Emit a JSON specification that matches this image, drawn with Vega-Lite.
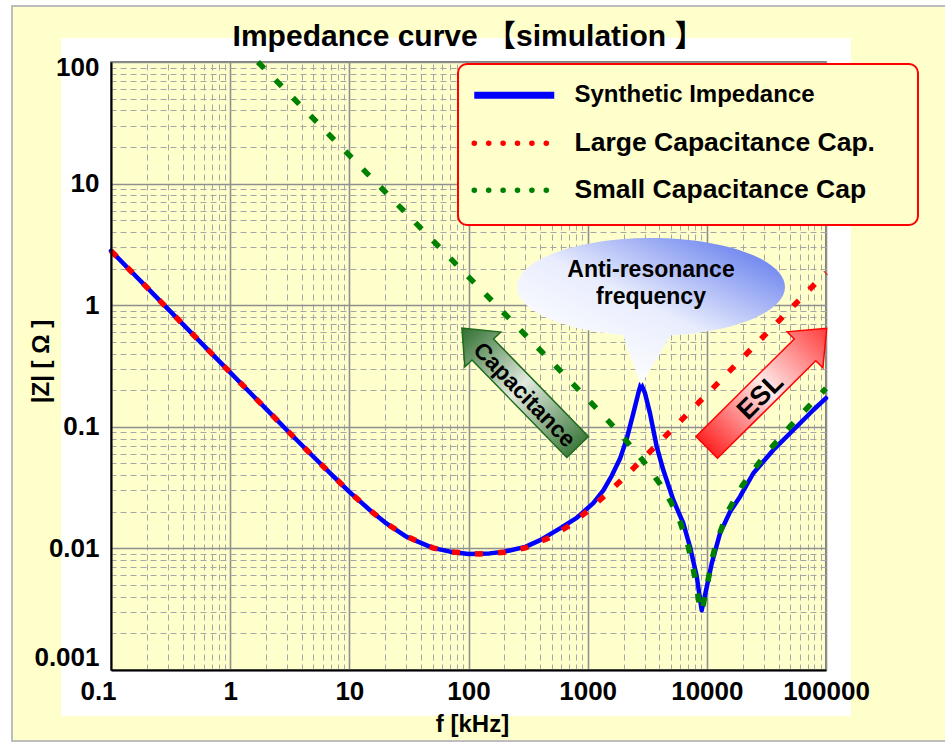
{
  "$schema": "https://vega.github.io/schema/vega-lite/v6.json",
  "width": 715,
  "height": 608,
  "autosize": {"type": "none"},
  "padding": {"left": 111, "top": 62, "right": 119, "bottom": 77},
  "background": "#FFFFFF",
  "config": {
    "view": {"fill": "#FFFFCC", "stroke": "#555555", "strokeWidth": 1.5},
    "font": "Liberation Sans"
  },
  "title": {
    "text": "Impedance curve 【simulation 】",
    "font": "Liberation Sans, Noto Sans CJK JP",
    "fontSize": 30,
    "fontWeight": "bold",
    "color": "#000000",
    "anchor": "middle",
    "frame": "group",
    "baseline": "alphabetic",
    "offset": 15,
    "dy": 86,
    "zindex": 1
  },
  "datasets": {
    "curves": [
      {"series": "Synthetic Impedance", "f": 0.1, "z": 2.8},
      {"series": "Synthetic Impedance", "f": 0.15, "z": 1.867},
      {"series": "Synthetic Impedance", "f": 0.2, "z": 1.4},
      {"series": "Synthetic Impedance", "f": 0.3, "z": 0.933},
      {"series": "Synthetic Impedance", "f": 0.5, "z": 0.56},
      {"series": "Synthetic Impedance", "f": 0.7, "z": 0.4},
      {"series": "Synthetic Impedance", "f": 1, "z": 0.28},
      {"series": "Synthetic Impedance", "f": 1.5, "z": 0.187},
      {"series": "Synthetic Impedance", "f": 2, "z": 0.1403},
      {"series": "Synthetic Impedance", "f": 3, "z": 0.0937},
      {"series": "Synthetic Impedance", "f": 5, "z": 0.0567},
      {"series": "Synthetic Impedance", "f": 7, "z": 0.041},
      {"series": "Synthetic Impedance", "f": 10, "z": 0.0292},
      {"series": "Synthetic Impedance", "f": 15, "z": 0.0205},
      {"series": "Synthetic Impedance", "f": 20, "z": 0.0163},
      {"series": "Synthetic Impedance", "f": 30, "z": 0.0125},
      {"series": "Synthetic Impedance", "f": 50, "z": 0.0101},
      {"series": "Synthetic Impedance", "f": 70, "z": 0.0094},
      {"series": "Synthetic Impedance", "f": 100, "z": 0.009},
      {"series": "Synthetic Impedance", "f": 150, "z": 0.0091},
      {"series": "Synthetic Impedance", "f": 200, "z": 0.0094},
      {"series": "Synthetic Impedance", "f": 300, "z": 0.0103},
      {"series": "Synthetic Impedance", "f": 400, "z": 0.0117},
      {"series": "Synthetic Impedance", "f": 586, "z": 0.0146},
      {"series": "Synthetic Impedance", "f": 809, "z": 0.0178},
      {"series": "Synthetic Impedance", "f": 1115, "z": 0.0236},
      {"series": "Synthetic Impedance", "f": 1353, "z": 0.03},
      {"series": "Synthetic Impedance", "f": 1591, "z": 0.0395},
      {"series": "Synthetic Impedance", "f": 1867, "z": 0.0545},
      {"series": "Synthetic Impedance", "f": 2126, "z": 0.0795},
      {"series": "Synthetic Impedance", "f": 2415, "z": 0.129},
      {"series": "Synthetic Impedance", "f": 2661, "z": 0.189},
      {"series": "Synthetic Impedance", "f": 2800, "z": 0.225},
      {"series": "Synthetic Impedance", "f": 3028, "z": 0.189},
      {"series": "Synthetic Impedance", "f": 3336, "z": 0.129},
      {"series": "Synthetic Impedance", "f": 3796, "z": 0.0686},
      {"series": "Synthetic Impedance", "f": 4312, "z": 0.0441},
      {"series": "Synthetic Impedance", "f": 5231, "z": 0.025},
      {"series": "Synthetic Impedance", "f": 6346, "z": 0.0161},
      {"series": "Synthetic Impedance", "f": 7224, "z": 0.0103},
      {"series": "Synthetic Impedance", "f": 8222, "z": 0.0059},
      {"series": "Synthetic Impedance", "f": 9055, "z": 0.0031},
      {"series": "Synthetic Impedance", "f": 9975, "z": 0.0048},
      {"series": "Synthetic Impedance", "f": 10985, "z": 0.0075},
      {"series": "Synthetic Impedance", "f": 12895, "z": 0.0133},
      {"series": "Synthetic Impedance", "f": 15650, "z": 0.02},
      {"series": "Synthetic Impedance", "f": 18980, "z": 0.0266},
      {"series": "Synthetic Impedance", "f": 24550, "z": 0.0415},
      {"series": "Synthetic Impedance", "f": 36130, "z": 0.0645},
      {"series": "Synthetic Impedance", "f": 53160, "z": 0.0941},
      {"series": "Synthetic Impedance", "f": 78230, "z": 0.1375},
      {"series": "Synthetic Impedance", "f": 100000, "z": 0.172},

      {"series": "Large Capacitance Cap.", "f": 0.1, "z": 2.8},
      {"series": "Large Capacitance Cap.", "f": 0.15, "z": 1.867},
      {"series": "Large Capacitance Cap.", "f": 0.2, "z": 1.4},
      {"series": "Large Capacitance Cap.", "f": 0.3, "z": 0.933},
      {"series": "Large Capacitance Cap.", "f": 0.5, "z": 0.56},
      {"series": "Large Capacitance Cap.", "f": 0.7, "z": 0.4},
      {"series": "Large Capacitance Cap.", "f": 1, "z": 0.28},
      {"series": "Large Capacitance Cap.", "f": 1.5, "z": 0.187},
      {"series": "Large Capacitance Cap.", "f": 2, "z": 0.1403},
      {"series": "Large Capacitance Cap.", "f": 3, "z": 0.0937},
      {"series": "Large Capacitance Cap.", "f": 5, "z": 0.0567},
      {"series": "Large Capacitance Cap.", "f": 7, "z": 0.041},
      {"series": "Large Capacitance Cap.", "f": 10, "z": 0.0292},
      {"series": "Large Capacitance Cap.", "f": 15, "z": 0.0205},
      {"series": "Large Capacitance Cap.", "f": 20, "z": 0.0163},
      {"series": "Large Capacitance Cap.", "f": 30, "z": 0.0126},
      {"series": "Large Capacitance Cap.", "f": 50, "z": 0.0101},
      {"series": "Large Capacitance Cap.", "f": 70, "z": 0.0094},
      {"series": "Large Capacitance Cap.", "f": 100, "z": 0.00905},
      {"series": "Large Capacitance Cap.", "f": 123, "z": 0.009},
      {"series": "Large Capacitance Cap.", "f": 150, "z": 0.00905},
      {"series": "Large Capacitance Cap.", "f": 200, "z": 0.0093},
      {"series": "Large Capacitance Cap.", "f": 300, "z": 0.0101},
      {"series": "Large Capacitance Cap.", "f": 500, "z": 0.0125},
      {"series": "Large Capacitance Cap.", "f": 700, "z": 0.0154},
      {"series": "Large Capacitance Cap.", "f": 1000, "z": 0.0203},
      {"series": "Large Capacitance Cap.", "f": 1500, "z": 0.029},
      {"series": "Large Capacitance Cap.", "f": 2000, "z": 0.0379},
      {"series": "Large Capacitance Cap.", "f": 3000, "z": 0.0562},
      {"series": "Large Capacitance Cap.", "f": 5000, "z": 0.0929},
      {"series": "Large Capacitance Cap.", "f": 7000, "z": 0.1298},
      {"series": "Large Capacitance Cap.", "f": 10000, "z": 0.185},
      {"series": "Large Capacitance Cap.", "f": 20000, "z": 0.37},
      {"series": "Large Capacitance Cap.", "f": 30000, "z": 0.555},
      {"series": "Large Capacitance Cap.", "f": 50000, "z": 0.925},
      {"series": "Large Capacitance Cap.", "f": 70000, "z": 1.295},
      {"series": "Large Capacitance Cap.", "f": 100000, "z": 1.85},

      {"series": "Small Capacitance Cap", "f": 1.71, "z": 100},
      {"series": "Small Capacitance Cap", "f": 2, "z": 85.5},
      {"series": "Small Capacitance Cap", "f": 3, "z": 57},
      {"series": "Small Capacitance Cap", "f": 5, "z": 34.2},
      {"series": "Small Capacitance Cap", "f": 7, "z": 24.4},
      {"series": "Small Capacitance Cap", "f": 10, "z": 17.1},
      {"series": "Small Capacitance Cap", "f": 15, "z": 11.4},
      {"series": "Small Capacitance Cap", "f": 20, "z": 8.55},
      {"series": "Small Capacitance Cap", "f": 30, "z": 5.7},
      {"series": "Small Capacitance Cap", "f": 50, "z": 3.42},
      {"series": "Small Capacitance Cap", "f": 70, "z": 2.44},
      {"series": "Small Capacitance Cap", "f": 100, "z": 1.71},
      {"series": "Small Capacitance Cap", "f": 150, "z": 1.14},
      {"series": "Small Capacitance Cap", "f": 200, "z": 0.855},
      {"series": "Small Capacitance Cap", "f": 300, "z": 0.569},
      {"series": "Small Capacitance Cap", "f": 500, "z": 0.341},
      {"series": "Small Capacitance Cap", "f": 700, "z": 0.243},
      {"series": "Small Capacitance Cap", "f": 1000, "z": 0.169},
      {"series": "Small Capacitance Cap", "f": 1500, "z": 0.111},
      {"series": "Small Capacitance Cap", "f": 2000, "z": 0.0813},
      {"series": "Small Capacitance Cap", "f": 2500, "z": 0.0632},
      {"series": "Small Capacitance Cap", "f": 3000, "z": 0.0507},
      {"series": "Small Capacitance Cap", "f": 4000, "z": 0.0344},
      {"series": "Small Capacitance Cap", "f": 5000, "z": 0.024},
      {"series": "Small Capacitance Cap", "f": 6000, "z": 0.0163},
      {"series": "Small Capacitance Cap", "f": 7000, "z": 0.0103},
      {"series": "Small Capacitance Cap", "f": 8000, "z": 0.0056},
      {"series": "Small Capacitance Cap", "f": 8600, "z": 0.0036},
      {"series": "Small Capacitance Cap", "f": 9055, "z": 0.003},
      {"series": "Small Capacitance Cap", "f": 10000, "z": 0.0048},
      {"series": "Small Capacitance Cap", "f": 11000, "z": 0.008},
      {"series": "Small Capacitance Cap", "f": 12000, "z": 0.0112},
      {"series": "Small Capacitance Cap", "f": 15000, "z": 0.0201},
      {"series": "Small Capacitance Cap", "f": 20000, "z": 0.0333},
      {"series": "Small Capacitance Cap", "f": 30000, "z": 0.0569},
      {"series": "Small Capacitance Cap", "f": 50000, "z": 0.1009},
      {"series": "Small Capacitance Cap", "f": 70000, "z": 0.1436},
      {"series": "Small Capacitance Cap", "f": 100000, "z": 0.2069}
    ]
  },
  "resolve": {"axis": {"x": "independent", "y": "independent"}},
  "layer": [
    {
      "data": {"values": [{}]},
      "mark": {"type": "rect", "fill": "#FFFFCC", "strokeWidth": 0},
      "encoding": {
        "x": {"datum": 0.014766, "type": "quantitative", "scale": {"type": "log", "domain": [0.1, 100000], "nice": false}, "axis": null},
        "x2": {"datum": 0.038059},
        "y": {"datum": 288.8, "type": "quantitative", "scale": {"type": "log", "domain": [0.001, 100], "nice": false}, "axis": null},
        "y2": {"datum": 0.00026061}
      }
    },
    {
      "data": {"values": [{}]},
      "mark": {"type": "rect", "fill": "#FFFFCC", "strokeWidth": 0},
      "encoding": {
        "x": {"datum": 162050, "type": "quantitative", "scale": {"type": "log", "domain": [0.1, 100000], "nice": false}, "axis": null},
        "x2": {"datum": 1098000},
        "y": {"datum": 288.8, "type": "quantitative", "scale": {"type": "log", "domain": [0.001, 100], "nice": false}, "axis": null},
        "y2": {"datum": 0.00026061}
      }
    },
    {
      "data": {"values": [{}]},
      "mark": {"type": "rect", "fill": "#FFFFCC", "strokeWidth": 0},
      "encoding": {
        "x": {"datum": 0.038059, "type": "quantitative", "scale": {"type": "log", "domain": [0.1, 100000], "nice": false}, "axis": null},
        "x2": {"datum": 162050},
        "y": {"datum": 288.8, "type": "quantitative", "scale": {"type": "log", "domain": [0.001, 100], "nice": false}, "axis": null},
        "y2": {"datum": 157.5}
      }
    },
    {
      "data": {"values": [{}]},
      "mark": {"type": "rect", "fill": "#FFFFCC", "strokeWidth": 0},
      "encoding": {
        "x": {"datum": 0.038059, "type": "quantitative", "scale": {"type": "log", "domain": [0.1, 100000], "nice": false}, "axis": null},
        "x2": {"datum": 162050},
        "y": {"datum": 0.00041846, "type": "quantitative", "scale": {"type": "log", "domain": [0.001, 100], "nice": false}, "axis": null},
        "y2": {"datum": 0.00026061}
      }
    },
    {
      "data": {"values": [{}]},
      "mark": {"type": "rect", "fill": "transparent", "stroke": "#BDBDBD", "strokeWidth": 2},
      "encoding": {
        "x": {"datum": 0.014766, "type": "quantitative", "scale": {"type": "log", "domain": [0.1, 100000], "nice": false}, "axis": null},
        "x2": {"datum": 1098000},
        "y": {"datum": 288.8, "type": "quantitative", "scale": {"type": "log", "domain": [0.001, 100], "nice": false}, "axis": null},
        "y2": {"datum": 0.00026061}
      }
    },
    {
      "data": {"values": [{}]},
      "mark": {"type": "rect", "fill": "#FFFFCC", "stroke": "#FF0000", "strokeWidth": 2, "cornerRadius": 9},
      "encoding": {
        "x": {"datum": 81.65, "type": "quantitative", "scale": {"type": "log", "domain": [0.1, 100000], "nice": false}, "axis": null},
        "x2": {"datum": 591500},
        "y": {"datum": 96.28, "type": "quantitative", "scale": {"type": "log", "domain": [0.001, 100], "nice": false}, "axis": null},
        "y2": {"datum": 4.566}
      }
    },
    {
      "data": {"name": "curves"},
      "transform": [{"filter": "datum.series === 'Synthetic Impedance'"}],
      "mark": {"type": "line", "strokeWidth": 4.5, "strokeCap": "round", "strokeJoin": "round"},
      "encoding": {
        "x": {
          "field": "f", "type": "quantitative",
          "scale": {"type": "log", "domain": [0.1, 100000], "nice": false},
          "axis": {
            "orient": "top",
            "values": [0.1,0.2,0.3,0.4,0.5,0.6,0.7,0.8,0.9,1,2,3,4,5,6,7,8,9,10,20,30,40,50,60,70,80,90,100,200,300,400,500,600,700,800,900,1000,2000,3000,4000,5000,6000,7000,8000,9000,10000,20000,30000,40000,50000,60000,70000,80000,90000,100000],
            "grid": true,
            "gridColor": {"condition": {"test": "abs(log(datum.value)/LN10 - round(log(datum.value)/LN10)) < 0.001", "value": "#8F8F8F"}, "value": "#A6A6A6"},
            "gridDash": {"condition": {"test": "abs(log(datum.value)/LN10 - round(log(datum.value)/LN10)) < 0.001", "value": []}, "value": [6, 4]},
            "gridWidth": {"condition": {"test": "abs(log(datum.value)/LN10 - round(log(datum.value)/LN10)) < 0.001", "value": 1.6}, "value": 1},
            "labels": false, "ticks": false, "domain": false, "title": null, "zindex": 0
          }
        },
        "y": {
          "field": "z", "type": "quantitative",
          "scale": {"type": "log", "domain": [0.001, 100], "nice": false},
          "axis": {
            "orient": "right",
            "values": [0.001,0.002,0.003,0.004,0.005,0.006,0.007,0.008,0.009,0.01,0.02,0.03,0.04,0.05,0.06,0.07,0.08,0.09,0.1,0.2,0.3,0.4,0.5,0.6,0.7,0.8,0.9,1,2,3,4,5,6,7,8,9,10,20,30,40,50,60,70,80,90,100],
            "grid": true,
            "gridColor": {"condition": {"test": "abs(log(datum.value)/LN10 - round(log(datum.value)/LN10)) < 0.001", "value": "#8F8F8F"}, "value": "#A6A6A6"},
            "gridDash": {"condition": {"test": "abs(log(datum.value)/LN10 - round(log(datum.value)/LN10)) < 0.001", "value": []}, "value": [6, 4]},
            "gridWidth": {"condition": {"test": "abs(log(datum.value)/LN10 - round(log(datum.value)/LN10)) < 0.001", "value": 1.6}, "value": 1},
            "labels": false, "ticks": false, "domain": false, "title": null, "zindex": 0
          }
        },
        "color": {
          "field": "series", "type": "nominal",
          "scale": {"domain": ["Synthetic Impedance", "Large Capacitance Cap.", "Small Capacitance Cap"], "range": ["#0000FF", "#FF0000", "#008000"]},
          "legend": {
            "title": null,
            "orient": "none",
            "legendX": 347,
            "legendY": 5,
            "direction": "vertical",
            "symbolType": "stroke",
            "symbolSize": 6400,
            "symbolStrokeWidth": 5,
            "symbolOffset": 28,
            "labelFont": "Liberation Sans",
            "labelFontSize": 26,
            "labelFontWeight": "bold",
            "labelColor": "#000000",
            "labelOffset": 47,
            "labelLimit": 0,
            "rowPadding": 20,
            "padding": 15,
            "zindex": 1,
            "encode": {
              "symbols": {"update": {
                "strokeDash": {"signal": "datum.value === 'Synthetic Impedance' ? [1, 0] : [0.1, 14.3]"},
                "strokeCap": {"signal": "datum.value === 'Synthetic Impedance' ? 'butt' : 'round'"},
                "strokeWidth": {"signal": "datum.value === 'Synthetic Impedance' ? 7 : 5.5"}
              }},
              "labels": {"update": {
                "fontSize": {"signal": "datum.value === 'Synthetic Impedance' ? 24 : 26.5"}
              }}
            }
          }
        }
      }
    },
    {
      "data": {"name": "curves"},
      "transform": [{"filter": "datum.series === 'Large Capacitance Cap.'"}],
      "mark": {"type": "line", "strokeWidth": 5.5, "strokeCap": "butt", "strokeDash": [8, 15]},
      "encoding": {
        "x": {
          "field": "f", "type": "quantitative",
          "scale": {"type": "log", "domain": [0.1, 100000], "nice": false},
          "axis": {
            "orient": "bottom",
            "values": [0.1, 1, 10, 100, 1000, 10000, 100000],
            "grid": false, "ticks": false,
            "domain": true, "domainColor": "#000000", "domainWidth": 2,
            "format": "~g",
            "labelFont": "Liberation Sans", "labelFontSize": 26, "labelFontWeight": "bold", "labelColor": "#000000",
            "labelPadding": 8, "labelFlush": false, "labelOverlap": false, "labelBound": false,
            "labelOffset": {"condition": {"test": "datum.value < 0.5", "value": -13}, "value": 0},
            "title": "f [kHz]",
            "titleFont": "Liberation Sans", "titleFontSize": 24, "titleFontWeight": "bold", "titleColor": "#000000",
            "titleX": 361, "titleY": 61, "titleAlign": "center", "titleBaseline": "alphabetic",
            "zindex": 1
          }
        },
        "y": {
          "field": "z", "type": "quantitative",
          "scale": {"type": "log", "domain": [0.001, 100], "nice": false},
          "axis": {
            "orient": "left",
            "values": [0.001, 0.01, 0.1, 1, 10, 100],
            "grid": false, "ticks": false,
            "domain": true, "domainColor": "#000000", "domainWidth": 2,
            "format": "~g",
            "labelFont": "Liberation Sans", "labelFontSize": 26, "labelFontWeight": "bold", "labelColor": "#000000",
            "labelPadding": 12, "labelFlush": false, "labelOverlap": false, "labelBound": false,
            "labelOffset": {"condition": [{"test": "datum.value > 50", "value": 5}, {"test": "datum.value < 0.002", "value": -13}], "value": 0},
            "title": "|Z| [ Ω ]",
            "titleFont": "Liberation Sans", "titleFontSize": 24, "titleFontWeight": "bold", "titleColor": "#000000",
            "titleX": -70, "titleY": 299, "titleAngle": -90, "titleAlign": "center", "titleBaseline": "middle",
            "zindex": 1
          }
        },
        "color": {"field": "series", "type": "nominal", "scale": {"domain": ["Synthetic Impedance", "Large Capacitance Cap.", "Small Capacitance Cap"], "range": ["#0000FF", "#FF0000", "#008000"]}}
      }
    },
    {
      "data": {"name": "curves"},
      "transform": [{"filter": "datum.series === 'Small Capacitance Cap'"}],
      "mark": {"type": "line", "strokeWidth": 5.5, "strokeCap": "butt", "strokeDash": [9, 16]},
      "encoding": {
        "x": {"field": "f", "type": "quantitative", "scale": {"type": "log", "domain": [0.1, 100000], "nice": false}, "axis": null},
        "y": {"field": "z", "type": "quantitative", "scale": {"type": "log", "domain": [0.001, 100], "nice": false}, "axis": null},
        "color": {"field": "series", "type": "nominal", "scale": {"domain": ["Synthetic Impedance", "Large Capacitance Cap.", "Small Capacitance Cap"], "range": ["#0000FF", "#FF0000", "#008000"]}}
      }
    },
    {
      "data": {"values": [{}]},
      "mark": {
        "type": "point",
        "shape": "M -1 0 C -1 -0.2021 -0.5523 -0.366 0 -0.366 C 0.5523 -0.366 1 -0.2021 1 0 C 1 0.2021 0.5523 0.366 0 0.366 C -0.5523 0.366 -1 0.2021 -1 0 Z M 0.164 0.33 L -0.075 0.731 L -0.219 0.33 Z",
        "size": 71824,
        "filled": true,
        "opacity": 1,
        "strokeWidth": 0,
        "fill": {"gradient": "linear", "x1": 0.25, "y1": 0.85, "x2": 1, "y2": 0, "stops": [{"offset": 0, "color": "#FFFFFF"}, {"offset": 0.4, "color": "#E8ECFD"}, {"offset": 1, "color": "#4F6BEB"}]}
      },
      "encoding": {
        "x": {"datum": 3400, "type": "quantitative", "scale": {"type": "log", "domain": [0.1, 100000], "nice": false}, "axis": null},
        "y": {"datum": 1.413, "type": "quantitative", "scale": {"type": "log", "domain": [0.001, 100], "nice": false}, "axis": null}
      }
    },
    {
      "data": {"values": [{}]},
      "mark": {"type": "text", "text": ["Anti-resonance", "frequency"], "lineHeight": 27, "font": "Liberation Sans", "fontSize": 23, "fontWeight": "bold", "color": "#000000", "align": "center", "baseline": "middle"},
      "encoding": {
        "x": {"datum": 3400, "type": "quantitative", "scale": {"type": "log", "domain": [0.1, 100000], "nice": false}, "axis": null},
        "y": {"datum": 1.948, "type": "quantitative", "scale": {"type": "log", "domain": [0.001, 100], "nice": false}, "axis": null}
      }
    },
    {
      "data": {"values": [{}]},
      "mark": {
        "type": "point",
        "shape": "M -1 -0.181 L 0.639 -0.181 L 0.639 -0.301 L 1 0 L 0.639 0.301 L 0.639 0.181 L -1 0.181 Z",
        "size": 27556,
        "angle": 225.8,
        "filled": true,
        "opacity": 1,
        "stroke": "#1E6B1E",
        "strokeWidth": 1.5,
        "fill": {"gradient": "linear", "x1": 0, "y1": 0, "x2": 1, "y2": 0, "stops": [{"offset": 0, "color": "#3F7B3F"}, {"offset": 0.5, "color": "#E2E9DE"}, {"offset": 1, "color": "#2E6E2E"}]}
      },
      "encoding": {
        "x": {"datum": 269.2, "type": "quantitative", "scale": {"type": "log", "domain": [0.1, 100000], "nice": false}, "axis": null},
        "y": {"datum": 0.2105, "type": "quantitative", "scale": {"type": "log", "domain": [0.001, 100], "nice": false}, "axis": null}
      }
    },
    {
      "data": {"values": [{}]},
      "mark": {"type": "text", "text": "Capacitance", "angle": 46, "font": "Liberation Sans", "fontSize": 23, "fontWeight": "bold", "color": "#000000", "align": "center", "baseline": "middle"},
      "encoding": {
        "x": {"datum": 293.4, "type": "quantitative", "scale": {"type": "log", "domain": [0.1, 100000], "nice": false}, "axis": null},
        "y": {"datum": 0.1826, "type": "quantitative", "scale": {"type": "log", "domain": [0.001, 100], "nice": false}, "axis": null}
      }
    },
    {
      "data": {"values": [{}]},
      "mark": {
        "type": "point",
        "shape": "M -1 -0.181 L 0.639 -0.181 L 0.639 -0.301 L 1 0 L 0.639 0.301 L 0.639 0.181 L -1 0.181 Z",
        "size": 28561,
        "angle": 315.2,
        "filled": true,
        "opacity": 1,
        "stroke": "#FF0000",
        "strokeWidth": 1.5,
        "fill": {"gradient": "linear", "x1": 0, "y1": 0, "x2": 1, "y2": 0, "stops": [{"offset": 0, "color": "#FF2424"}, {"offset": 0.5, "color": "#FFEAEA"}, {"offset": 1, "color": "#FF3C3C"}]}
      },
      "encoding": {
        "x": {"datum": 31790, "type": "quantitative", "scale": {"type": "log", "domain": [0.1, 100000], "nice": false}, "axis": null},
        "y": {"datum": 0.2089, "type": "quantitative", "scale": {"type": "log", "domain": [0.001, 100], "nice": false}, "axis": null}
      }
    },
    {
      "data": {"values": [{}]},
      "mark": {"type": "text", "text": "ESL", "angle": 315, "font": "Liberation Sans", "fontSize": 27, "fontWeight": "bold", "color": "#000000", "align": "center", "baseline": "middle"},
      "encoding": {
        "x": {"datum": 28310, "type": "quantitative", "scale": {"type": "log", "domain": [0.1, 100000], "nice": false}, "axis": null},
        "y": {"datum": 0.1768, "type": "quantitative", "scale": {"type": "log", "domain": [0.001, 100], "nice": false}, "axis": null}
      }
    }
  ]
}
